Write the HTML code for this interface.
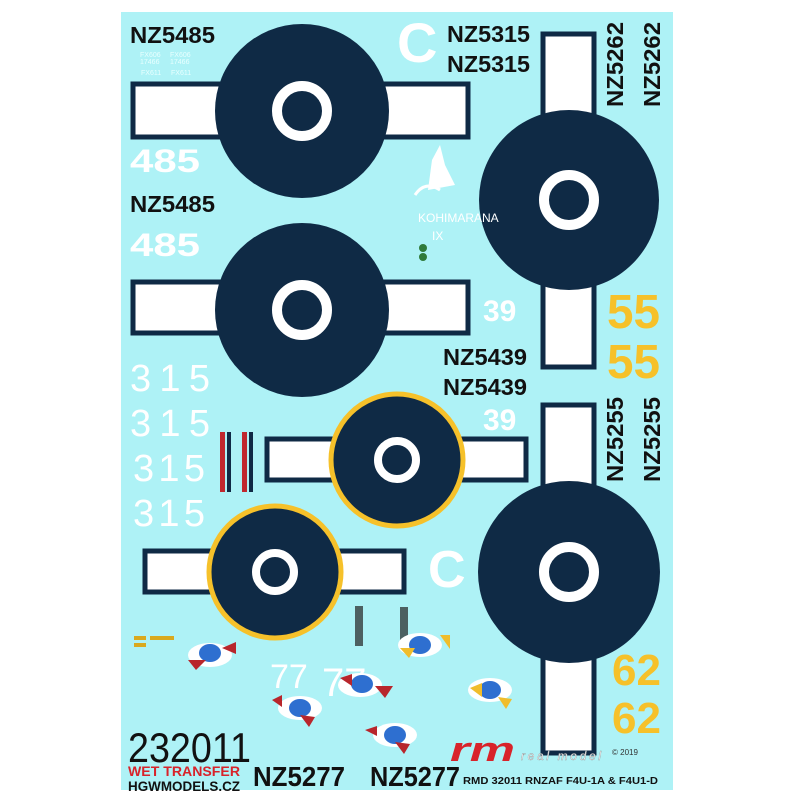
<!DOCTYPE html>
<html><head><meta charset="utf-8"><style>
html,body{margin:0;padding:0;background:#fff;}
svg{display:block}
text{font-family:"Liberation Sans",sans-serif;}
</style></head><body>
<svg width="800" height="800" viewBox="0 0 800 800" xmlns="http://www.w3.org/2000/svg">
<rect x="0" y="0" width="800" height="800" fill="#fff"/>
<rect x="121" y="12" width="552" height="778" fill="#aef2f6"/>

<!-- Roundel 1 -->
<rect x="133" y="84" width="335" height="53" fill="#fff" stroke="#0f2a45" stroke-width="5"/>
<circle cx="302" cy="111" r="87" fill="#0f2a45"/>
<circle cx="302" cy="111" r="25" fill="none" stroke="#fff" stroke-width="10"/>
<!-- Roundel 2 -->
<rect x="133" y="282" width="335" height="51" fill="#fff" stroke="#0f2a45" stroke-width="5"/>
<circle cx="302" cy="310" r="87" fill="#0f2a45"/>
<circle cx="302" cy="310" r="25" fill="none" stroke="#fff" stroke-width="10"/>
<!-- Vertical roundel top right -->
<rect x="543" y="34" width="51" height="333" fill="#fff" stroke="#0f2a45" stroke-width="5"/>
<circle cx="569" cy="200" r="90" fill="#0f2a45"/>
<circle cx="569" cy="200" r="25" fill="none" stroke="#fff" stroke-width="10"/>
<!-- Vertical roundel bottom right -->
<rect x="543" y="405" width="51" height="348" fill="#fff" stroke="#0f2a45" stroke-width="5"/>
<circle cx="569" cy="572" r="91" fill="#0f2a45"/>
<circle cx="569" cy="572" r="25" fill="none" stroke="#fff" stroke-width="10"/>
<!-- Yellow roundel A -->
<rect x="267" y="439" width="259" height="41" fill="#fff" stroke="#0f2a45" stroke-width="5"/>
<circle cx="397" cy="460" r="66" fill="#0f2a45" stroke="#f6c12a" stroke-width="5"/>
<circle cx="397" cy="460" r="19" fill="none" stroke="#fff" stroke-width="8"/>
<!-- Yellow roundel B -->
<rect x="145" y="551" width="259" height="41" fill="#fff" stroke="#0f2a45" stroke-width="5"/>
<circle cx="275" cy="572" r="66" fill="#0f2a45" stroke="#f6c12a" stroke-width="5"/>
<circle cx="275" cy="572" r="19" fill="none" stroke="#fff" stroke-width="8"/>

<!-- black serials -->
<g font-weight="bold" fill="#111" font-size="23">
<text x="130" y="43" textLength="85" lengthAdjust="spacingAndGlyphs">NZ5485</text>
<text x="130" y="212" textLength="85" lengthAdjust="spacingAndGlyphs">NZ5485</text>
<text x="447" y="42" textLength="83" lengthAdjust="spacingAndGlyphs">NZ5315</text>
<text x="447" y="72" textLength="83" lengthAdjust="spacingAndGlyphs">NZ5315</text>
<text x="443" y="365" textLength="84" lengthAdjust="spacingAndGlyphs">NZ5439</text>
<text x="443" y="395" textLength="84" lengthAdjust="spacingAndGlyphs">NZ5439</text>
<text transform="translate(623,107) rotate(-90)" textLength="85" lengthAdjust="spacingAndGlyphs">NZ5262</text>
<text transform="translate(660,107) rotate(-90)" textLength="85" lengthAdjust="spacingAndGlyphs">NZ5262</text>
<text transform="translate(623,482) rotate(-90)" textLength="85" lengthAdjust="spacingAndGlyphs">NZ5255</text>
<text transform="translate(660,482) rotate(-90)" textLength="85" lengthAdjust="spacingAndGlyphs">NZ5255</text>
</g>
<g fill="#111" font-weight="bold" font-size="28">
<text x="253" y="786" textLength="92" lengthAdjust="spacingAndGlyphs">NZ5277</text>
<text x="370" y="786" textLength="90" lengthAdjust="spacingAndGlyphs">NZ5277</text>
</g>
<text x="463" y="784" font-family="Liberation Serif,serif" font-weight="bold" font-size="10.5" fill="#111" textLength="195" lengthAdjust="spacingAndGlyphs">RMD 32011  RNZAF F4U-1A &amp; F4U1-D</text>

<!-- small white labels -->
<g fill="#e8ffff" font-size="7"><text x="140" y="57">FX606</text><text x="170" y="57">FX606</text><text x="140" y="64">17466</text><text x="170" y="64">17466</text><text x="141" y="75">FX611</text><text x="171" y="75">FX611</text></g>

<!-- white numbers -->
<g fill="#fff" font-weight="bold">
<text x="130" y="172" font-size="32" textLength="70" lengthAdjust="spacingAndGlyphs">485</text>
<text x="130" y="256" font-size="32" textLength="70" lengthAdjust="spacingAndGlyphs">485</text>
<text x="483" y="321" font-size="30">39</text>
<text x="483" y="430" font-size="30">39</text>
<text x="397" y="62" font-size="56">C</text>
<text x="428" y="587" font-size="52">C</text>
</g>
<g fill="#fff" font-size="38">
<text x="130" y="391" textLength="80" lengthAdjust="spacing">315</text>
<text x="130" y="436" textLength="80" lengthAdjust="spacing">315</text>
<text x="133" y="481" textLength="72" lengthAdjust="spacing">315</text>
<text x="133" y="526" textLength="72" lengthAdjust="spacing">315</text>
<text x="270" y="688" font-size="34">77</text>
<text x="322" y="696" font-size="40">77</text>
</g>
<!-- yellow -->
<g fill="#f6c12a" font-weight="bold" font-size="48">
<text x="607" y="328" textLength="53" lengthAdjust="spacingAndGlyphs">55</text>
<text x="607" y="378" textLength="53" lengthAdjust="spacingAndGlyphs">55</text>
<text x="612" y="685" font-size="44">62</text>
<text x="612" y="733" font-size="44">62</text>
</g>

<!-- stripes -->
<rect x="220" y="432" width="5" height="60" fill="#c0282e"/>
<rect x="227" y="432" width="4" height="60" fill="#0f2a45"/>
<rect x="242" y="432" width="5" height="60" fill="#c0282e"/>
<rect x="249" y="432" width="4" height="60" fill="#0f2a45"/>

<!-- Kohimarama logo -->
<path d="M428 190 L432 160 L440 145 L445 165 L455 185 Z" fill="#fff"/>
<path d="M415 195 Q425 180 440 190" stroke="#fff" stroke-width="3" fill="none"/>
<text x="418" y="222" fill="#fff" font-size="12" font-family="Liberation Serif,serif">KOHIMARANA</text>
<text x="432" y="240" fill="#fff" font-size="12">IX</text>
<circle cx="423" cy="248" r="4" fill="#2f7a3a"/><circle cx="423" cy="257" r="4" fill="#2f7a3a"/>

<!-- rivets marks -->
<g fill="#222"><rect x="355" y="606" width="8" height="40" opacity="0.7"/><rect x="400" y="607" width="8" height="38" opacity="0.7"/></g>
<g fill="#d9a91e"><rect x="134" y="636" width="12" height="4"/><rect x="150" y="636" width="24" height="4"/><rect x="134" y="643" width="12" height="4"/></g>

<!-- ducks -->
<g>
<ellipse cx="210" cy="655" rx="22" ry="12" fill="#fff"/><ellipse cx="210" cy="653" rx="11" ry="9" fill="#2e6fd0"/><path d="M188 660 l18 0 l-10 10z" fill="#b8262c"/><path d="M222 648 l14 -6 l0 12z" fill="#b8262c"/>
<ellipse cx="360" cy="685" rx="22" ry="12" fill="#fff"/><ellipse cx="362" cy="684" rx="11" ry="9" fill="#2e6fd0"/><path d="M375 686 l18 0 l-8 12z" fill="#b8262c"/><path d="M340 678 l12 -4 l0 12z" fill="#b8262c"/>
<ellipse cx="300" cy="708" rx="22" ry="12" fill="#fff"/><ellipse cx="300" cy="708" rx="11" ry="9" fill="#2e6fd0"/><path d="M300 715 l15 2 l-6 10z" fill="#b8262c"/><path d="M272 700 l10 -5 l0 12z" fill="#b8262c"/>
<ellipse cx="395" cy="735" rx="22" ry="12" fill="#fff"/><ellipse cx="395" cy="735" rx="11" ry="9" fill="#2e6fd0"/><path d="M395 742 l15 2 l-6 10z" fill="#b8262c"/><path d="M365 730 l12 -4 l0 10z" fill="#b8262c"/>
<ellipse cx="420" cy="645" rx="22" ry="12" fill="#fff"/><ellipse cx="420" cy="645" rx="11" ry="9" fill="#2e6fd0"/><path d="M400 648 l15 0 l-6 10z" fill="#f0bd2c"/><path d="M440 635 l10 0 l0 14z" fill="#f0bd2c"/>
<ellipse cx="490" cy="690" rx="22" ry="12" fill="#fff"/><ellipse cx="490" cy="690" rx="11" ry="9" fill="#2e6fd0"/><path d="M470 688 l12 -5 l0 14z" fill="#f0bd2c"/><path d="M498 697 l14 2 l-6 10z" fill="#f0bd2c"/>
</g>

<!-- rm logo -->
<text x="450" y="761" fill="#d8232a" font-size="34" font-weight="bold" font-style="italic" textLength="65" lengthAdjust="spacingAndGlyphs">rm</text>
<text x="521" y="760" fill="#fff" font-size="12" font-style="italic" stroke="#999" stroke-width="0.4" textLength="80" lengthAdjust="spacing">real model</text>
<text x="612" y="755" fill="#333" font-size="8">© 2019</text>

<!-- bottom-left -->
<text x="128" y="762" fill="#111" font-size="42" textLength="123" lengthAdjust="spacingAndGlyphs">232011</text>
<text x="128" y="776" fill="#d8232a" font-size="14" font-weight="bold" textLength="112" lengthAdjust="spacingAndGlyphs">WET TRANSFER</text>
<text x="128" y="791" fill="#111" font-size="14" font-weight="bold" textLength="112" lengthAdjust="spacingAndGlyphs">HGWMODELS.CZ</text>
</svg>
</body></html>
